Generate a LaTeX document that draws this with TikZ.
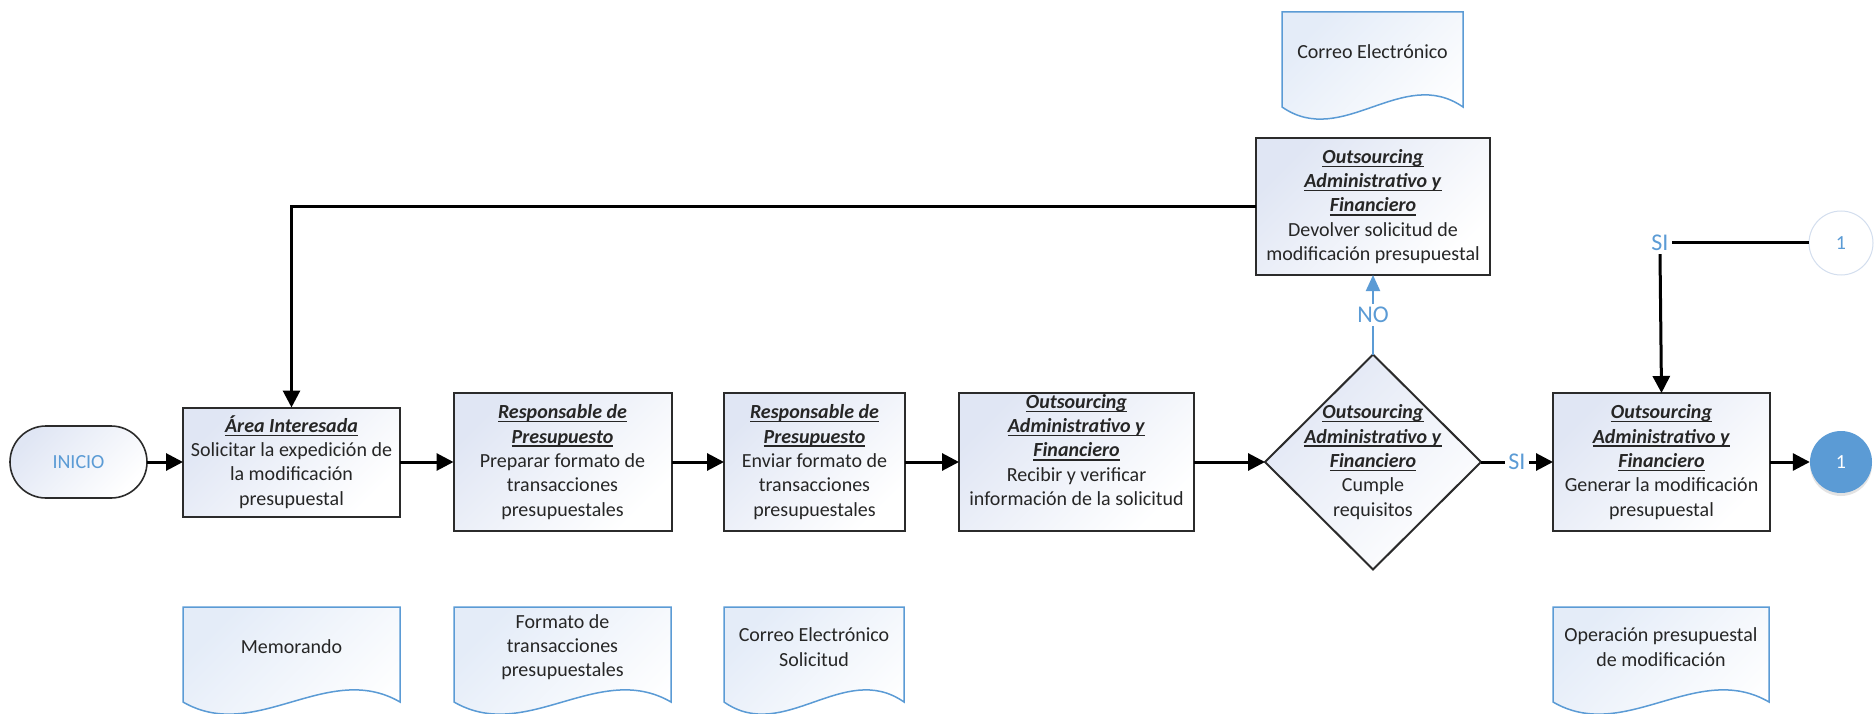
\documentclass[tikz,border=0pt]{standalone}
\usepackage{fontspec}
\setmainfont{Carlito}
\usetikzlibrary{arrows.meta,shapes.geometric,shadows}

\definecolor{accent}{HTML}{5B9BD5}
\definecolor{boxline}{HTML}{2B2B2B}
\definecolor{boxfill}{HTML}{E0E6F4}
\definecolor{docfill}{HTML}{E4ECF8}
\definecolor{ink}{HTML}{262626}
\definecolor{ringline}{HTML}{D3DEEE}

% bold italic heading with a rule just below the baseline
\newcommand\ttl[1]{\setbox0\hbox{\textbf{\textit{#1}}}\rlap{\vrule height -2.2pt depth 3.6pt width \wd0}\box0}

% document symbol: rectangle with a wavy lower edge (left, top, width)
\newcommand\docoutline[3]{%
  \path[docstyle] (#1,#2) -- ({#1+#3},#2) -- ({#1+#3},{#2+95})
    .. controls +({-#3/3},-42) and +({#3/3},42) .. (#1,{#2+95}) -- cycle;}

\tikzset{
  base/.style={font=\fontsize{20}{24.3}\selectfont, text=ink, align=center,
    inner sep=0pt, outer sep=0pt},
  stepbox/.style={base, draw=boxline, line width=2pt,
    top color=boxfill, bottom color=white, shading angle=45},
  docstyle/.style={draw=accent, line width=1.5pt,
    top color=docfill, bottom color=white, shading angle=45},
  flow/.style={line width=3pt, draw=black, -{Triangle[length=17pt,width=17pt]}},
  plain/.style={line width=3pt, draw=black},
  noflow/.style={line width=2pt, draw=accent, -{Triangle[length=16pt,width=14pt]}},
  lbl/.style={font=\fontsize{24}{28}\selectfont, text=accent, inner sep=3pt},
}

\begin{document}
\begin{tikzpicture}[x=1pt,y=-1pt]
\useasboundingbox (0,0) rectangle (1874,714);

% documents
\docoutline{1282}{12}{181}
\node[base] (docmail) at (1372.5,52) {Correo Electrónico};
\docoutline{183}{607}{217}
\node[base] (docmemo) at (291.5,647) {Memorando};
\docoutline{454}{607}{217}
\node[base] (docformat) at (562.5,647) {Formato de\\transacciones\\presupuestales};
\docoutline{724}{607}{180}
\node[base] (docrequest) at (814,647) {Correo Electrónico\\Solicitud};
\docoutline{1553}{607}{216}
\node[base] (docop) at (1661,647) {Operación presupuestal\\de modificación};

% process steps
\node[stepbox, line width=1.6pt, rounded corners=36pt, minimum width=137pt,
  minimum height=72pt, text=accent] (start) at (78.5,462) {INICIO};
\node[stepbox, minimum width=217pt, minimum height=109pt] (box1) at (291.5,462)
  {\ttl{Área Interesada}\\Solicitar la expedición de\\la modificación\\presupuestal};
\node[stepbox, minimum width=218pt, minimum height=138pt] (box2) at (562.5,462)
  {\ttl{Responsable de}\\\ttl{Presupuesto}\\Preparar formato de\\transacciones\\presupuestales};
\node[stepbox, minimum width=181pt, minimum height=138pt] (box3) at (814.5,462)
  {\ttl{Responsable de}\\\ttl{Presupuesto}\\Enviar formato de\\transacciones\\presupuestales};
\node[stepbox, minimum width=235pt, minimum height=138pt] (box4) at (1076.5,462) {};
\node[base] (box4text) at ([yshift=12pt]box4.center)
  {\ttl{Outsourcing}\\\ttl{Administrativo y}\\\ttl{Financiero}\\Recibir y verificar\\información de la solicitud};
\node[stepbox, shape=diamond, minimum width=216pt, minimum height=215pt] (dia) at (1373,462) {};
\node[base] (diatext) at (dia.center)
  {\ttl{Outsourcing}\\\ttl{Administrativo y}\\\ttl{Financiero}\\Cumple\\requisitos};
\node[stepbox, minimum width=234pt, minimum height=137pt] (box5) at (1373,206.5)
  {\ttl{Outsourcing}\\\ttl{Administrativo y}\\\ttl{Financiero}\\Devolver solicitud de\\modificación presupuestal};
\node[stepbox, minimum width=217pt, minimum height=138pt] (box6) at (1661.5,462)
  {\ttl{Outsourcing}\\\ttl{Administrativo y}\\\ttl{Financiero}\\Generar la modificación\\presupuestal};

% off-page connectors
\node[circle, draw=ringline, line width=1pt, fill=white, minimum size=64pt,
  inner sep=0pt, font=\fontsize{20}{24}\selectfont, text=accent] (ctop) at (1841,243) {1};
\node[circle, fill=accent, minimum size=62pt, inner sep=0pt,
  drop shadow={opacity=0.22, shadow xshift=0pt, shadow yshift=-3pt},
  font=\fontsize{20}{24}\selectfont, text=white] (cend) at (1841,462) {1};

% labels on branches
\node[lbl] (sitop) at (1660,243) {SI};
\node[lbl] (siright) at (1517,462) {SI};
\node[lbl, fill=white] (no) at (1373,315) {NO};

% flow lines
\draw[flow] (start.east) -- (box1.west);
\draw[flow] (box1.east) -- (box2.west);
\draw[flow] (box2.east) -- (box3.west);
\draw[flow] (box3.east) -- (box4.west);
\draw[flow] (box4.east) -- (dia.west);
\draw[plain] (dia.east) -- (siright.west);
\draw[flow] (siright.east) -- (box6.west);
\draw[flow] (box6.east) -- (cend.west);
\draw[line width=2pt, draw=accent] (dia.north) -- (no.south);
\draw[noflow] (no.north) -- (box5.south);
\draw[flow] (box5.west) -| (box1.north);
\draw[plain] (ctop.west) -- (sitop.east);
\draw[flow] (sitop.south) -- (box6.north);
\end{tikzpicture}
\end{document}
